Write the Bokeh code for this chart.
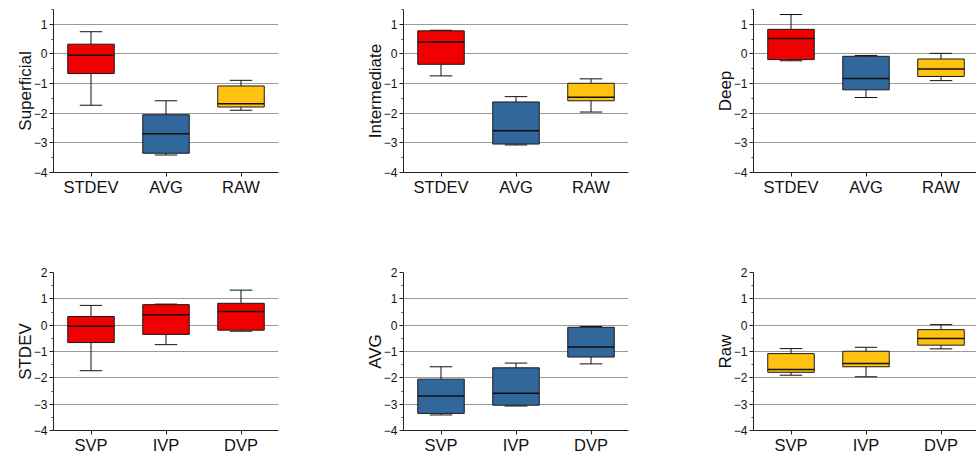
from bokeh.plotting import figure
from bokeh.layouts import gridplot
from bokeh.models import FixedTicker, Range1d
from bokeh.embed import file_html
from bokeh.resources import INLINE

# ---------------- data ----------------
methods = ["STDEV", "AVG", "RAW"]
depths = ["SVP", "IVP", "DVP"]
depth_titles = ["Superficial", "Intermediate", "Deep"]
method_titles = ["STDEV", "AVG", "Raw"]
method_colors = ["#F00000", "#32679B", "#FFC210"]

# statistics per depth, ordered by method (STDEV, AVG, RAW)
superficial_low = [-1.73, -3.41, -1.90]
superficial_q1 = [-0.66, -3.35, -1.79]
superficial_med = [-0.04, -2.69, -1.68]
superficial_q3 = [0.33, -2.05, -1.08]
superficial_high = [0.75, -1.58, -0.89]

intermediate_low = [-0.74, -3.07, -1.96]
intermediate_q1 = [-0.35, -3.04, -1.58]
intermediate_med = [0.40, -2.59, -1.46]
intermediate_q3 = [0.78, -1.62, -0.99]
intermediate_high = [0.80, -1.44, -0.84]

deep_low = [-0.23, -1.47, -0.90]
deep_q1 = [-0.19, -1.21, -0.76]
deep_med = [0.52, -0.83, -0.51]
deep_q3 = [0.83, -0.08, -0.17]
deep_high = [1.33, -0.05, 0.02]

stats = {
    "Superficial": (superficial_low, superficial_q1, superficial_med, superficial_q3, superficial_high),
    "Intermediate": (intermediate_low, intermediate_q1, intermediate_med, intermediate_q3, intermediate_high),
    "Deep": (deep_low, deep_q1, deep_med, deep_q3, deep_high),
}

FONT = "Liberation Sans"
BOX_W = 0.62
CAP_W = 0.15
LEFT = 53


def make_panel(ylabel, xlabels, low, q1, med, q3, high, colors, y_range, grid_ticks,
               height, border_top, border_bottom, width, border_right):
    frame_w = width - LEFT - border_right
    p = figure(width=width, height=height, output_backend="svg", toolbar_location=None,
               x_range=Range1d(0, frame_w / 75.0), y_range=Range1d(*y_range),
               min_border_left=LEFT, min_border_right=border_right,
               min_border_top=border_top, min_border_bottom=border_bottom)
    p.outline_line_color = None
    p.background_fill_color = "white"
    xs = [i + 0.5 for i in range(len(xlabels))]

    # whiskers
    p.segment(x0=xs, x1=xs, y0=high, y1=q3, line_color="#111111", line_width=1)
    p.segment(x0=xs, x1=xs, y0=low, y1=q1, line_color="#111111", line_width=1)
    p.segment(x0=[x - CAP_W for x in xs], x1=[x + CAP_W for x in xs], y0=high, y1=high,
              line_color="#111111", line_width=1)
    p.segment(x0=[x - CAP_W for x in xs], x1=[x + CAP_W for x in xs], y0=low, y1=low,
              line_color="#111111", line_width=1)
    # boxes
    p.vbar(x=xs, width=BOX_W, bottom=q1, top=q3, fill_color=colors,
           line_color="#1a1a1a", line_width=1)
    # medians
    p.segment(x0=[x - BOX_W / 2 for x in xs], x1=[x + BOX_W / 2 for x in xs], y0=med, y1=med,
              line_color="#111111", line_width=1.5)

    # axes
    major = list(range(int(y_range[0]), int(y_range[1]) + 1))
    minor = [m + 0.5 for m in major]
    p.yaxis.ticker = FixedTicker(ticks=major, minor_ticks=minor)
    p.ygrid.ticker = FixedTicker(ticks=grid_ticks)
    p.ygrid.grid_line_color = "#9a9a9a"
    p.ygrid.grid_line_width = 1
    p.xgrid.grid_line_color = None

    p.xaxis.ticker = FixedTicker(ticks=xs)
    p.xaxis.major_label_overrides = {x: lab for x, lab in zip(xs, xlabels)}
    p.xaxis.minor_tick_line_color = None

    for ax in (p.xaxis[0], p.yaxis[0]):
        ax.axis_line_color = "#222222"
        ax.major_tick_line_color = "#222222"
        ax.major_tick_in = 0
        ax.major_label_text_font = FONT
        ax.major_label_text_color = "#111111"
    p.xaxis.major_tick_out = 4
    p.xaxis.major_label_standoff = 1
    p.xaxis.major_label_text_font_size = "16.5px"
    p.yaxis.major_tick_out = 4
    p.yaxis.minor_tick_out = 2
    p.yaxis.minor_tick_in = 0
    p.yaxis.minor_tick_line_color = "#444444"
    p.yaxis.major_label_standoff = 2
    p.yaxis.major_label_text_font_size = "12px"
    p.yaxis.axis_label = ylabel
    p.yaxis.axis_label_text_font = FONT
    p.yaxis.axis_label_text_font_size = "17px"
    p.yaxis.axis_label_text_font_style = "normal"
    p.yaxis.axis_label_text_color = "#111111"
    p.yaxis.axis_label_standoff = -4
    return p


grid_ticks = [-3, -2, -1, 0, 1]
widths = [350, 350, 276]
rights = [72, 72, 0]

top_row = []
for i, name in enumerate(depth_titles):
    low, q1, med, q3, high = stats[name]
    top_row.append(make_panel(name, methods, low, q1, med, q3, high, method_colors,
                              (-4, 1.5), grid_ticks, 198, 9, 24, widths[i], rights[i]))

bottom_row = []
for j, mt in enumerate(method_titles):
    low = [stats[d][0][j] for d in depth_titles]
    q1 = [stats[d][1][j] for d in depth_titles]
    med = [stats[d][2][j] for d in depth_titles]
    q3 = [stats[d][3][j] for d in depth_titles]
    high = [stats[d][4][j] for d in depth_titles]
    cols = [method_colors[j]] * 3
    bottom_row.append(make_panel(mt, depths, low, q1, med, q3, high, cols,
                                 (-4, 2), grid_ticks, 258, 74, 22, widths[j], rights[j]))

p = gridplot([top_row, bottom_row], toolbar_location=None)

open("out.html", "w").write(file_html(p, INLINE))
